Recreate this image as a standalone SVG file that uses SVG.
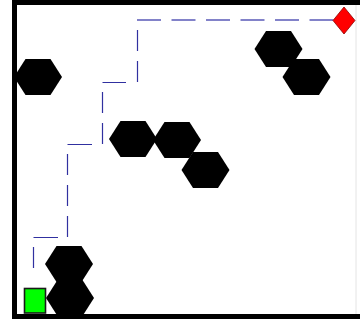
<svg xmlns="http://www.w3.org/2000/svg" xmlns:xlink="http://www.w3.org/1999/xlink" width="360" height="321" viewBox="0 0 360 321">
  <style>
    .wall { fill: #000; }
    .hex { fill: #000; }
    .path { stroke: #3030a0; stroke-width: 1.2; fill: none; }
    .path-light { stroke: #5a5ab8; stroke-width: 1.3; fill: none; }
  </style>
  <defs>
    <polygon id="hexshape" points="-24,0 -12.5,-18 12.5,-18 24,0 12.5,18 -12.5,18"/>
  </defs>
  <rect x="0" y="0" width="360" height="321" fill="#fff"/>
  <g id="frame">
    <line x1="356" y1="5" x2="356" y2="314" stroke="#e4e4e4" stroke-width="1"/>
    <rect class="wall" x="12" y="0" width="5" height="319"/>
    <rect class="wall" x="12" y="0" width="348" height="5"/>
    <rect class="wall" x="12" y="314" width="348" height="5"/>
  </g>
  <g id="connectors">
    <path class="path" d="M33.5 268 V247 M33.5 237.5 H58 M67.5 237 V216 M67.5 206 V185 M67.5 175 V154 M67.5 144.5 H92 M102.5 144 V123 M102.5 113 V92 M102.5 82.5 H126 M137.5 82 V61 M137.5 51 V30"/>
    <path class="path-light" d="M137 20 H161 M171.5 20 H195.5 M206 20 H230 M240.5 20 H264.5 M275 20 H299 M309.5 20 H333.5"/>
  </g>
  <g id="obstacle1" class="hex"><use xlink:href="#hexshape" x="38" y="77"/></g>
  <g id="obstacle2" class="hex"><use xlink:href="#hexshape" x="133" y="139"/></g>
  <g id="obstacle3" class="hex"><use xlink:href="#hexshape" x="177" y="140"/></g>
  <g id="obstacle4" class="hex"><use xlink:href="#hexshape" x="205.5" y="170"/></g>
  <g id="obstacle5" class="hex"><use xlink:href="#hexshape" x="278.5" y="49"/></g>
  <g id="obstacle6" class="hex"><use xlink:href="#hexshape" x="306.5" y="77"/></g>
  <g id="obstacle7" class="hex"><use xlink:href="#hexshape" x="69" y="264"/></g>
  <g id="obstacle8" class="hex"><use xlink:href="#hexshape" x="70" y="298"/></g>
  <g id="start">
    <rect x="24.5" y="288.5" width="21" height="24.5" fill="#00ff00" stroke="#1a1a1a" stroke-width="1.6"/>
  </g>
  <g id="goal">
    <polygon points="344,7 355,20.5 344,34 333,20.5" fill="#ff0000" stroke="#8a0000" stroke-width="0.8"/>
  </g>
</svg>
